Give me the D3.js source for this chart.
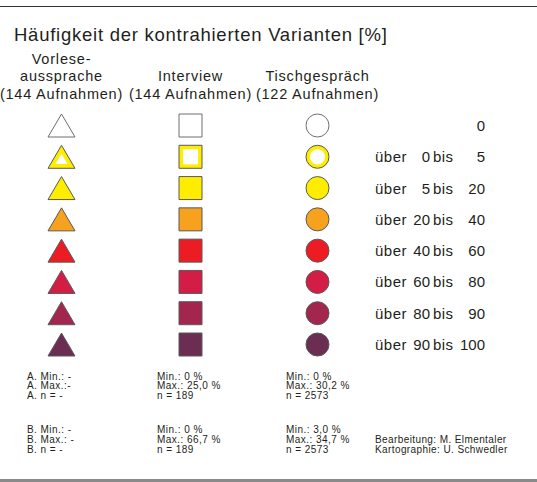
<!DOCTYPE html>
<html>
<head>
<meta charset="utf-8">
<script src="https://cdn.jsdelivr.net/npm/d3@7"></script>
<style>
  body { margin: 0; background: #fff; }
  text { font-family: "Liberation Sans", Arial, sans-serif; fill: #231f20; }
</style>
</head>
<body>
<div id="chart"></div>
<script>
var title = "Häufigkeit der kontrahierten Varianten [%]";
var columns = ["Vorlese-|aussprache", "Interview", "Tischgespräch"];
var recordings = ["(144 Aufnahmen)", "(144 Aufnahmen)", "(122 Aufnahmen)"];
var shapes = ["triangle", "square", "circle"];
var lowerBounds = [null, 0, 5, 20, 40, 60, 80, 90];
var upperBounds = [0, 5, 20, 40, 60, 80, 90, 100];
var classColors = ["#ffffff", "#ffed00", "#ffed00", "#f7a21f", "#ed1c24", "#d31d45", "#a3264f", "#6b2d52"];
var statsA = [["A. Min.: -", "A. Max.:-", "A. n = -"], ["Min.: 0 %", "Max.: 25,0 %", "n = 189"], ["Min.: 0 %", "Max.: 30,2 %", "n = 2573"]];
var statsB = [["B. Min.: -", "B. Max.: -", "B. n = -"], ["Min.: 0 %", "Max.: 66,7 %", "n = 189"], ["Min.: 3,0 %", "Max.: 34,7 %", "n = 2573"]];
var credits = ["Bearbeitung: M. Elmentaler", "Kartographie: U. Schwedler"];

var width = 537;
var height = 482;

var svg = d3.select("#chart")
    .append("svg")
    .attr("width", width)
    .attr("height", height);

// frame lines
svg.append("line").attr("x1", 0).attr("x2", width).attr("y1", 6.5).attr("y2", 6.5)
    .attr("stroke", "#333").attr("stroke-width", 1.2);
svg.append("rect").attr("x", 0).attr("y", 479).attr("width", width).attr("height", 3)
    .attr("fill", "#8a8a8a");

svg.append("text").attr("x", 14).attr("y", 40.5).attr("font-size", 18.5)
    .attr("letter-spacing", 0.75).text(title);

var xPos = d3.scaleOrdinal().domain(d3.range(columns.length)).range([61.5, 190.5, 317.5]);
var y = d3.scalePoint().domain(d3.range(upperBounds.length)).range([125.5, 344.5]);

// column headers
var head = svg.append("g").selectAll("g")
    .data(columns)
    .enter()
    .append("g");
head.each(function(d, i) {
    var parts = d.split("|");
    var g = d3.select(this);
    var base = 80.5 - (parts.length - 1) * 16.5;
    parts.forEach(function(p, k) {
        g.append("text").attr("x", xPos(i)).attr("y", base + k * 16.5)
            .attr("text-anchor", "middle").attr("font-size", 14.5)
            .attr("letter-spacing", 0.8).text(p);
    });
    g.append("text").attr("x", xPos(i)).attr("y", 98.5)
        .attr("text-anchor", "middle").attr("font-size", 14.5)
        .attr("letter-spacing", 0.8).text(recordings[i]);
});

function shapePath(shape, cx, cy, s) {
    if (shape === "triangle") {
        var w = 27 * s, h = 23 * s;
        // inner shape shares the centroid of the outer one
        var cyc = cy + 11.5 - 23 / 3;
        return "M" + cx + "," + (cyc - h * 2 / 3) + "L" + (cx + w / 2) + "," + (cyc + h / 3) +
            "L" + (cx - w / 2) + "," + (cyc + h / 3) + "Z";
    }
    if (shape === "square") {
        var a = 23 * s;
        return "M" + (cx - a / 2) + "," + (cy - a / 2) + "h" + a + "v" + a + "h" + (-a) + "Z";
    }
    var r = 11.5 * s;
    return "M" + (cx - r) + "," + cy + "a" + r + "," + r + " 0 1,0 " + (2 * r) + ",0a" + r + "," + r + " 0 1,0 " + (-2 * r) + ",0Z";
}

var rows = svg.append("g").selectAll("g")
    .data(upperBounds)
    .enter()
    .append("g");

rows.each(function(d, r) {
    var g = d3.select(this);
    shapes.forEach(function(s, c) {
        g.append("path")
            .attr("d", shapePath(s, xPos(c), y(r), 1))
            .attr("fill", classColors[r])
            .attr("stroke", r === 0 ? "#6d6e71" : "#58595b")
            .attr("stroke-width", 1);
        if (r === 1) {
            g.append("path")
                .attr("d", shapePath(s, xPos(c), y(r), s === "triangle" ? 0.45 : 0.66))
                .attr("fill", "#fff");
        }
    });
    if (lowerBounds[r] !== null) {
        g.append("text").attr("x", 375).attr("y", y(r) + 5.5).attr("font-size", 15)
            .attr("letter-spacing", 0.5).text("über");
        g.append("text").attr("x", 430).attr("y", y(r) + 5.5).attr("font-size", 15)
            .attr("text-anchor", "end").text(lowerBounds[r]);
        g.append("text").attr("x", 433).attr("y", y(r) + 5.5).attr("font-size", 15)
            .attr("letter-spacing", 0.4).text("bis");
    }
    g.append("text").attr("x", 485).attr("y", y(r) + 5.5).attr("font-size", 15)
        .attr("text-anchor", "end").text(d);
});

// statistics below
var statX = [27, 157, 286];
[statsA, statsB].forEach(function(block, b) {
    block.forEach(function(lines, c) {
        lines.forEach(function(t, k) {
            svg.append("text").attr("x", statX[c]).attr("y", 379.5 + b * 53.5 + k * 9.8)
                .attr("font-size", 10).attr("letter-spacing", 0.45).text(t);
        });
    });
});
credits.forEach(function(t, k) {
    svg.append("text").attr("x", 375).attr("y", 443 + k * 9.8).attr("font-size", 10)
        .attr("letter-spacing", 0.4).text(t);
});
</script>
</body>
</html>
